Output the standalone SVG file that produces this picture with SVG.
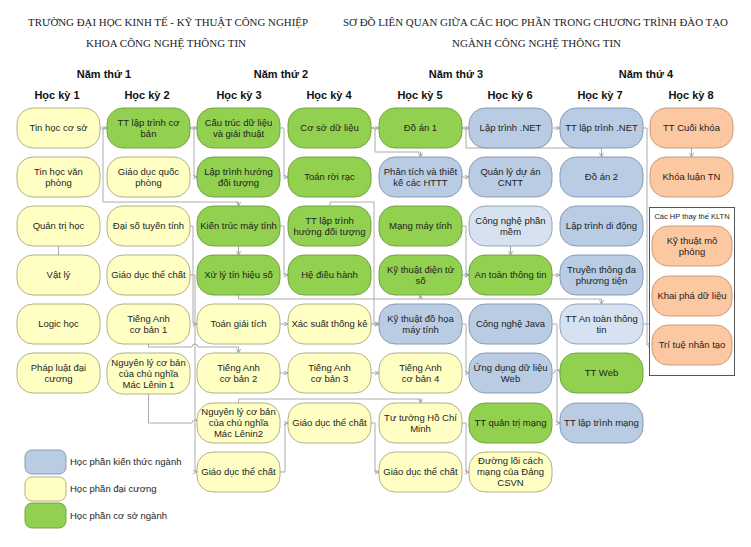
<svg xmlns="http://www.w3.org/2000/svg" width="751" height="547" viewBox="0 0 751 547">
<defs>
<style>
.n{stroke-width:0.9}
.g{fill:#92d050;stroke:#6f9a42}
.y{fill:#ffffc4;stroke:#a9a77a}
.b{fill:#b9cce4;stroke:#7f94ae}
.lb{fill:#d6e2f0;stroke:#8c9db5}
.o{fill:#fbc8a2;stroke:#c39575}
.t{font-family:"Liberation Sans",Arial,sans-serif;font-size:9.5px;fill:#1e1e1e;text-anchor:middle}
.h{font-family:"Liberation Serif","Times New Roman",serif;font-size:10.5px;fill:#222}
.hb{font-family:"Liberation Sans",Arial,sans-serif;font-size:11px;font-weight:bold;fill:#111;text-anchor:middle}
.lg{font-family:"Liberation Sans",Arial,sans-serif;font-size:9.5px;fill:#1e1e1e}
.c path{fill:none;stroke:#a3a3a3;stroke-width:0.9;marker-end:url(#a)}
.c path.na{marker-end:none}
</style>
<marker id="a" viewBox="0 0 6 6" refX="5.5" refY="3" markerWidth="5" markerHeight="5" orient="auto" markerUnits="userSpaceOnUse">
<path d="M0.5,0.5 L5.5,3 L0.5,5.5" fill="none" stroke="#9a9a9a" stroke-width="1"/>
</marker>
</defs>
<rect width="751" height="547" fill="#fff"/>

<g id="headers">
<text class="h" x="28" y="26" textLength="280" lengthAdjust="spacingAndGlyphs">TRƯỜNG ĐẠI HỌC KINH TẾ - KỸ THUẬT CÔNG NGHIỆP</text>
<text class="h" x="86" y="47" textLength="160" lengthAdjust="spacingAndGlyphs">KHOA CÔNG NGHỆ THÔNG TIN</text>
<text class="h" x="343" y="26" textLength="385" lengthAdjust="spacingAndGlyphs">SƠ ĐỒ LIÊN QUAN GIỮA CÁC HỌC PHẦN TRONG CHƯƠNG TRÌNH ĐÀO TẠO</text>
<text class="h" x="452" y="47" textLength="169" lengthAdjust="spacingAndGlyphs">NGÀNH CÔNG NGHỆ THÔNG TIN</text>
<text class="hb" x="104" y="78">Năm thứ 1</text>
<text class="hb" x="281" y="78">Năm thứ 2</text>
<text class="hb" x="456" y="78">Năm thứ 3</text>
<text class="hb" x="646" y="78">Năm thứ 4</text>
<text class="hb" x="57" y="99">Học kỳ 1</text>
<text class="hb" x="147" y="99">Học kỳ 2</text>
<text class="hb" x="239" y="99">Học kỳ 3</text>
<text class="hb" x="329" y="99">Học kỳ 4</text>
<text class="hb" x="420" y="99">Học kỳ 5</text>
<text class="hb" x="510" y="99">Học kỳ 6</text>
<text class="hb" x="600" y="99">Học kỳ 7</text>
<text class="hb" x="691" y="99">Học kỳ 8</text>
</g>

<g class="c" id="connectors">
<path d="M100,128 H107"/>
<path d="M103,128 V202 H238.5 V206"/>
<path d="M190,128 H197"/>
<path d="M190,128 H194 V177 H197"/>
<path d="M280,128 H284 V177 H288"/>
<path d="M371,128 H379"/>
<path d="M371,128 H375 V152 H420.5 V157"/>
<path d="M462,128 H469"/>
<path d="M462,128 H466 V148 H601.5 V157"/>
<path d="M552,128 H560"/>
<path d="M643,128 H647 V345 H652"/>
<path d="M691.5,148 V157"/>
<path d="M462,177 H469"/>
<path d="M190,226 H193 V324 H197"/>
<path d="M190,275 H195 V472 H197"/>
<path d="M238.5,246 V255"/>
<path d="M280,226 H284 V275 H288"/>
<path d="M238.5,295 V299 H601.5 V304"/>
<path d="M420.5,299 V295"/>
<path d="M330,206 V202 H374 V324 H379"/>
<path d="M280,324 H288"/>
<path d="M371,324 H379"/>
<path d="M148.5,344 V347 H192 a3,3 0 0 1 6,0 H238.5 V353"/>
<path d="M280,373 H288"/>
<path d="M371,373 H379"/>
<path d="M148.5,394 V423 H192 a3,3 0 0 1 6,0"/>
<path d="M238.5,403 V399 H420.5 V403"/>
<path d="M280,472 H285 V423 H288"/>
<path d="M371,423 H375 V472 H379"/>
<path d="M462,423 H466 V472 H469"/>
<path d="M462,324 H466 V373 H469"/>
<path d="M462,226 H466 V275 H469"/>
<path d="M462,275 H469"/>
<path d="M510.5,246 V255"/>
<path d="M552,275 H560"/>
<path d="M643,324 H691.5 V316"/>
<path d="M552,324 H557 V423 H560"/>
<path d="M552,373 H554 a3,3 0 0 1 6,0"/>
<path class="na" d="M58.5,246 V255"/>
</g>

<!-- Column 1 -->
<g id="tin-hoc-co-so"><rect class="n y" x="17" y="108" width="83" height="40" rx="16"/><text class="t" x="58.5" y="131.3">Tin học cơ sở</text></g>
<g id="tin-hoc-van-phong"><rect class="n y" x="17" y="157" width="83" height="40" rx="16"/><text class="t" x="58.5" y="174.8">Tin học văn</text><text class="t" x="58.5" y="185.8">phòng</text></g>
<g id="quan-tri-hoc"><rect class="n y" x="17" y="206" width="83" height="40" rx="16"/><text class="t" x="58.5" y="229.3">Quản trị học</text></g>
<g id="vat-ly"><rect class="n y" x="17" y="255" width="83" height="40" rx="16"/><text class="t" x="58.5" y="278.3">Vật lý</text></g>
<g id="logic-hoc"><rect class="n y" x="17" y="304" width="83" height="40" rx="16"/><text class="t" x="58.5" y="327.3">Logic học</text></g>
<g id="phap-luat"><rect class="n y" x="17" y="353" width="83" height="40" rx="16"/><text class="t" x="58.5" y="370.8">Pháp luật đại</text><text class="t" x="58.5" y="381.8">cương</text></g>

<!-- Column 2 -->
<g id="tt-lap-trinh-co-ban"><rect class="n g" x="107" y="108" width="83" height="40" rx="16"/><text class="t" x="148.5" y="125.8">TT lập trình cơ</text><text class="t" x="148.5" y="136.8">bản</text></g>
<g id="giao-duc-quoc-phong"><rect class="n y" x="107" y="157" width="83" height="40" rx="16"/><text class="t" x="148.5" y="174.8">Giáo dục quốc</text><text class="t" x="148.5" y="185.8">phòng</text></g>
<g id="dai-so-tuyen-tinh"><rect class="n y" x="107" y="206" width="83" height="40" rx="16"/><text class="t" x="148.5" y="229.3">Đại số tuyến tính</text></g>
<g id="gdtc-1"><rect class="n y" x="107" y="255" width="83" height="40" rx="16"/><text class="t" x="148.5" y="278.3">Giáo dục thể chất</text></g>
<g id="tieng-anh-1"><rect class="n y" x="107" y="304" width="83" height="40" rx="16"/><text class="t" x="148.5" y="321.8">Tiếng Anh</text><text class="t" x="148.5" y="332.8">cơ bản 1</text></g>
<g id="nguyen-ly-1"><rect class="n y" x="107" y="353" width="83" height="41" rx="16"/><text class="t" x="148.5" y="365.8">Nguyên lý cơ bản</text><text class="t" x="148.5" y="376.8">của chủ nghĩa</text><text class="t" x="148.5" y="387.8">Mác Lênin 1</text></g>

<!-- Column 3 -->
<g id="cau-truc-du-lieu"><rect class="n g" x="197" y="108" width="83" height="40" rx="16"/><text class="t" x="238.5" y="125.8">Cấu trúc dữ liệu</text><text class="t" x="238.5" y="136.8">và giải thuật</text></g>
<g id="lap-trinh-hdt"><rect class="n g" x="197" y="157" width="83" height="40" rx="16"/><text class="t" x="238.5" y="174.8">Lập trình hướng</text><text class="t" x="238.5" y="185.8">đối tượng</text></g>
<g id="kien-truc-may-tinh"><rect class="n g" x="197" y="206" width="83" height="40" rx="16"/><text class="t" x="238.5" y="229.3">Kiến trúc máy tính</text></g>
<g id="xu-ly-tin-hieu-so"><rect class="n g" x="197" y="255" width="83" height="40" rx="16"/><text class="t" x="238.5" y="278.3">Xử lý tín hiệu số</text></g>
<g id="toan-giai-tich"><rect class="n y" x="197" y="304" width="83" height="40" rx="16"/><text class="t" x="238.5" y="327.3">Toán giải tích</text></g>
<g id="tieng-anh-2"><rect class="n y" x="197" y="353" width="83" height="40" rx="16"/><text class="t" x="238.5" y="370.8">Tiếng Anh</text><text class="t" x="238.5" y="381.8">cơ bản 2</text></g>
<g id="nguyen-ly-2"><rect class="n y" x="197" y="403" width="83" height="40" rx="16"/><text class="t" x="238.5" y="415.3">Nguyên lý cơ bản</text><text class="t" x="238.5" y="426.3">của chủ nghĩa</text><text class="t" x="238.5" y="437.3">Mác Lênin2</text></g>
<g id="gdtc-2"><rect class="n y" x="197" y="452" width="83" height="40" rx="16"/><text class="t" x="238.5" y="475.3">Giáo dục thể chất</text></g>

<!-- Column 4 -->
<g id="co-so-du-lieu"><rect class="n g" x="288" y="108" width="83" height="40" rx="16"/><text class="t" x="329.5" y="131.3">Cơ sở dữ liệu</text></g>
<g id="toan-roi-rac"><rect class="n g" x="288" y="157" width="83" height="40" rx="16"/><text class="t" x="329.5" y="180.3">Toán rời rạc</text></g>
<g id="tt-lap-trinh-hdt"><rect class="n g" x="288" y="206" width="83" height="40" rx="16"/><text class="t" x="329.5" y="223.8">TT lập trình</text><text class="t" x="329.5" y="234.8">hướng đối tượng</text></g>
<g id="he-dieu-hanh"><rect class="n g" x="288" y="255" width="83" height="40" rx="16"/><text class="t" x="329.5" y="278.3">Hệ điều hành</text></g>
<g id="xac-suat-thong-ke"><rect class="n y" x="288" y="304" width="83" height="40" rx="16"/><text class="t" x="329.5" y="327.3">Xác suất thống kê</text></g>
<g id="tieng-anh-3"><rect class="n y" x="288" y="353" width="83" height="40" rx="16"/><text class="t" x="329.5" y="370.8">Tiếng Anh</text><text class="t" x="329.5" y="381.8">cơ bản 3</text></g>
<g id="gdtc-3"><rect class="n y" x="288" y="403" width="83" height="40" rx="16"/><text class="t" x="329.5" y="426.3">Giáo dục thể chất</text></g>

<!-- Column 5 -->
<g id="do-an-1"><rect class="n g" x="379" y="108" width="83" height="40" rx="16"/><text class="t" x="420.5" y="131.3">Đồ án 1</text></g>
<g id="phan-tich-thiet-ke"><rect class="n b" x="379" y="157" width="83" height="40" rx="16"/><text class="t" x="420.5" y="174.8">Phân tích và thiết</text><text class="t" x="420.5" y="185.8">kế các HTTT</text></g>
<g id="mang-may-tinh"><rect class="n g" x="379" y="206" width="83" height="40" rx="16"/><text class="t" x="420.5" y="229.3">Mạng máy tính</text></g>
<g id="ky-thuat-dien-tu-so"><rect class="n g" x="379" y="255" width="83" height="40" rx="16"/><text class="t" x="420.5" y="272.8">Kỹ thuật điện tử</text><text class="t" x="420.5" y="283.8">số</text></g>
<g id="ky-thuat-do-hoa"><rect class="n b" x="379" y="304" width="83" height="40" rx="16"/><text class="t" x="420.5" y="321.8">Kỹ thuật đồ họa</text><text class="t" x="420.5" y="332.8">máy tính</text></g>
<g id="tieng-anh-4"><rect class="n y" x="379" y="353" width="83" height="40" rx="16"/><text class="t" x="420.5" y="370.8">Tiếng Anh</text><text class="t" x="420.5" y="381.8">cơ bản 4</text></g>
<g id="tu-tuong-hcm"><rect class="n y" x="379" y="403" width="83" height="40" rx="16"/><text class="t" x="420.5" y="420.8">Tư tưởng Hồ Chí</text><text class="t" x="420.5" y="431.8">Minh</text></g>
<g id="gdtc-4"><rect class="n y" x="379" y="452" width="83" height="40" rx="16"/><text class="t" x="420.5" y="475.3">Giáo dục thể chất</text></g>

<!-- Column 6 -->
<g id="lap-trinh-net"><rect class="n b" x="469" y="108" width="83" height="40" rx="16"/><text class="t" x="510.5" y="131.3">Lập trình .NET</text></g>
<g id="quan-ly-du-an"><rect class="n b" x="469" y="157" width="83" height="40" rx="16"/><text class="t" x="510.5" y="174.8">Quản lý dự án</text><text class="t" x="510.5" y="185.8">CNTT</text></g>
<g id="cong-nghe-phan-mem"><rect class="n lb" x="469" y="206" width="83" height="40" rx="16"/><text class="t" x="510.5" y="223.8">Công nghệ phần</text><text class="t" x="510.5" y="234.8">mềm</text></g>
<g id="an-toan-thong-tin"><rect class="n g" x="469" y="255" width="83" height="40" rx="16"/><text class="t" x="510.5" y="278.3">An toàn thông tin</text></g>
<g id="cong-nghe-java"><rect class="n b" x="469" y="304" width="83" height="40" rx="16"/><text class="t" x="510.5" y="327.3">Công nghệ Java</text></g>
<g id="ung-dung-du-lieu-web"><rect class="n b" x="469" y="353" width="83" height="40" rx="16"/><text class="t" x="510.5" y="370.8">Ứng dụng dữ liệu</text><text class="t" x="510.5" y="381.8">Web</text></g>
<g id="tt-quan-tri-mang"><rect class="n g" x="469" y="403" width="83" height="40" rx="16"/><text class="t" x="510.5" y="426.3">TT quản trị mạng</text></g>
<g id="duong-loi"><rect class="n y" x="469" y="452" width="83" height="40" rx="16"/><text class="t" x="510.5" y="464.3">Đường lối cách</text><text class="t" x="510.5" y="475.3">mạng của Đảng</text><text class="t" x="510.5" y="486.3">CSVN</text></g>

<!-- Column 7 -->
<g id="tt-lap-trinh-net"><rect class="n b" x="560" y="108" width="83" height="40" rx="16"/><text class="t" x="601.5" y="131.3">TT lập trình .NET</text></g>
<g id="do-an-2"><rect class="n b" x="560" y="157" width="83" height="40" rx="16"/><text class="t" x="601.5" y="180.3">Đồ án 2</text></g>
<g id="lap-trinh-di-dong"><rect class="n b" x="560" y="206" width="83" height="40" rx="16"/><text class="t" x="601.5" y="229.3">Lập trình di động</text></g>
<g id="truyen-thong-da-phuong-tien"><rect class="n b" x="560" y="255" width="83" height="40" rx="16"/><text class="t" x="601.5" y="272.8">Truyền thông đa</text><text class="t" x="601.5" y="283.8">phương tiện</text></g>
<g id="tt-an-toan-thong-tin"><rect class="n lb" x="560" y="304" width="83" height="40" rx="16"/><text class="t" x="601.5" y="321.8">TT An toàn thông</text><text class="t" x="601.5" y="332.8">tin</text></g>
<g id="tt-web"><rect class="n g" x="560" y="353" width="83" height="40" rx="16"/><text class="t" x="601.5" y="376.3">TT Web</text></g>
<g id="tt-lap-trinh-mang"><rect class="n b" x="560" y="403" width="83" height="40" rx="16"/><text class="t" x="601.5" y="426.3">TT lập trình mạng</text></g>

<!-- Column 8 -->
<g id="tt-cuoi-khoa"><rect class="n o" x="650" y="108" width="83" height="40" rx="16"/><text class="t" x="691.5" y="131.3">TT Cuối khóa</text></g>
<g id="khoa-luan-tn"><rect class="n o" x="650" y="157" width="83" height="40" rx="16"/><text class="t" x="691.5" y="180.3">Khóa luận TN</text></g>
<g id="cac-hp-thay-the">
<rect x="649.5" y="207.5" width="85" height="168" fill="#fff" stroke="#555" stroke-width="1"/>
<text class="t" x="692" y="218.5" style="font-size:7.5px">Các HP thay thế KLTN</text>
</g>
<g id="ky-thuat-mo-phong"><rect class="n o" x="652" y="226" width="80" height="40" rx="16"/><text class="t" x="692" y="243.8">Kỹ thuật mô</text><text class="t" x="692" y="254.8">phỏng</text></g>
<g id="khai-pha-du-lieu"><rect class="n o" x="652" y="276" width="80" height="40" rx="16"/><text class="t" x="692" y="299.3">Khai phá dữ liệu</text></g>
<g id="tri-tue-nhan-tao"><rect class="n o" x="652" y="325" width="80" height="40" rx="16"/><text class="t" x="692" y="348.3">Trí tuệ nhân tạo</text></g>

<!-- Legend -->
<g id="legend">
<rect class="n b" x="25" y="450" width="41" height="24" rx="7"/>
<rect class="n y" x="25" y="477" width="41" height="24" rx="7"/>
<rect class="n g" x="25" y="503" width="41" height="25" rx="7"/>
<text class="lg" x="70" y="465.3">Học phần kiến thức ngành</text>
<text class="lg" x="70" y="492.3">Học phần đại cương</text>
<text class="lg" x="70" y="518.8">Học phần cơ sở ngành</text>
</g>
</svg>
